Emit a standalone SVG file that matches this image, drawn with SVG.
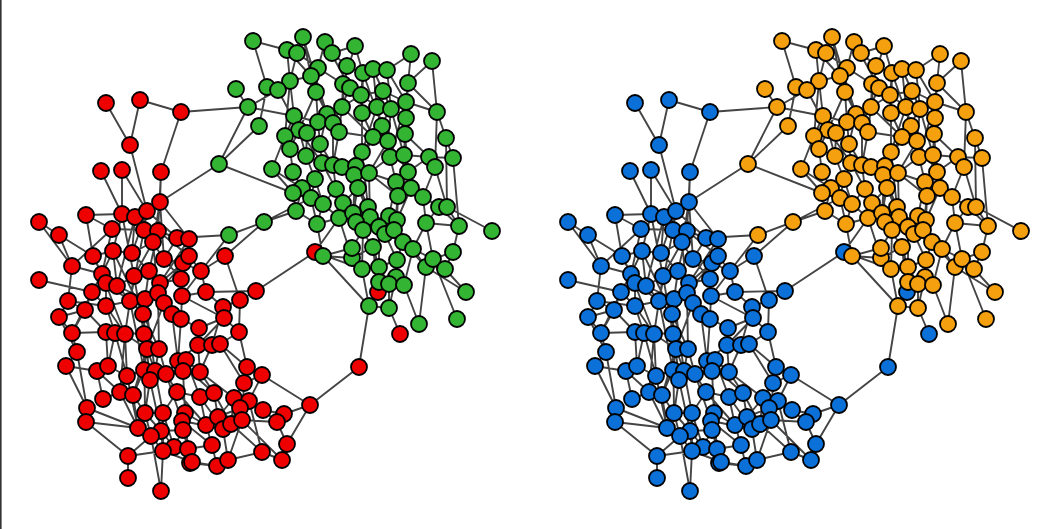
<svg xmlns="http://www.w3.org/2000/svg" xmlns:xlink="http://www.w3.org/1999/xlink" width="1058" height="529" viewBox="0 0 1058 529">
<style>
.e{fill:none;stroke:#444;stroke-width:1.9;stroke-linecap:round}
.n circle{r:8px;stroke:#000;stroke-width:1.8}
</style>
<rect width="1058" height="529" fill="#fff"/>
<rect x="0" y="0" width="1.6" height="529" fill="#333"/>
<g id="connectors">
<path id="E" class="e" d="M106 103L130 145M140 100L130 145M140 100L181 112M181 112L161 172M181 112L248 107M130 145L147 211M101 171L122 214M122 170L122 214M122 170L147 211M161 172L160 202M161 172L158 231M219 164L160 202M39 222L72 266M86 215L122 214M86 215L93 256M59 235L93 256M59 235L72 266M72 266L68 301M72 266L112 229M39 280L92 292M68 301L59 317M68 301L106 306M59 317L77 352M72 333L106 332M72 333L92 292M77 352L87 408M66 366L97 371M66 366L77 352M87 408L138 428M86 422L128 456M128 456L128 478M128 456L163 451M128 456L151 436M161 491L151 436M103 399L120 392M103 399L97 371M97 371L108 366M108 366L115 333M127 376L125 334M127 376L120 392M133 395L145 413M120 392L138 428M145 413L161 431M163 413L174 447M138 428L151 436M161 431L163 451M174 447L188 449M163 451L192 462M190 463L217 466M188 449L212 445M185 413L206 425M182 421L223 429M183 430L161 431M177 392L200 397M177 392L163 413M178 361L166 374M186 360L200 372M183 371L150 380M144 370L147 349M155 371L159 349M166 374L177 392M150 380L145 413M144 370L133 395M200 372L214 393M200 372L198 345M247 367L244 383M247 367L220 344M262 375L310 405M262 375L249 401M244 383L234 398M310 405L284 414M310 405L287 444M310 405L359 367M359 367L369 306M249 401L263 410M249 401L262 452M240 408L242 420M263 410L284 414M284 414L277 422M277 422L287 444M242 420L282 460M231 424L262 452M223 429L228 460M218 417L234 398M206 425L212 445M212 445L217 466M192 462L217 466M214 393L218 417M200 397L206 425M234 398L240 408M242 420L277 422M262 452L228 460M282 460L287 444M199 328L198 345M224 318L239 332M223 307L240 300M256 291L240 300M256 291L315 252M206 292L256 291M225 256L240 300M225 256L201 271M225 256L264 222M229 235L177 238M229 235L201 271M229 235L264 222M264 222L296 211M264 222L311 198M239 332L247 367M239 332L220 344M212 345L200 372M199 328L181 319M201 271L183 263M206 292L182 296M189 239L189 256M177 238L158 231M160 202L153 242M147 211L144 230M135 217L132 253M122 214L113 251M112 229L102 274M144 230L164 259M158 231L149 271M153 242L134 276M93 256L106 283M113 251L117 286M132 253L149 271M164 259L181 279M183 263L160 283M189 256L158 293M102 274L92 292M134 276L130 301M149 271L145 299M106 283L106 306M117 286L143 314M160 283L164 303M181 279L182 296M130 301L125 334M145 299L144 334M158 293L172 314M164 303L147 349M85 310L106 332M106 306L115 333M143 314L159 349M172 314L178 361M181 319L182 296M144 334L144 370M106 332L108 366M115 333L127 376M147 349L155 371M159 349L166 374M92 292L85 310M85 310L59 317M122 214L134 276M147 211L132 253M160 202L164 259M135 217L117 286M144 230L130 301M153 242L158 293M189 239L160 283M113 251L143 314M102 274L125 334M134 276L144 334M149 271L172 314M106 283L130 301M117 286L145 299M130 301L144 370M145 299L155 371M158 293L159 349M143 314L150 380M182 296L224 318M181 319L178 361M172 314L199 328M125 334L120 392M144 334L145 413M147 349L133 395M127 376L138 428M155 371L163 413M166 374L182 421M150 380L161 431M183 371L185 413M178 361L214 393M186 360L200 397M200 372L234 398M200 397L223 429M214 393L231 424M177 392L206 425M163 413L163 451M145 413L151 436M185 413L188 449M183 430L174 447M182 421L212 445M240 408L223 429M244 383L242 420M198 345L178 361M220 344L244 383M223 307L212 345M224 318L198 345M201 271L206 292M206 292L223 307M240 300L239 332M189 256L201 271M183 263L181 279M177 238L164 259M158 231L189 256M147 211L177 238M112 229L144 230M86 215L112 229M72 266L102 274M93 256L102 274M68 301L85 310M72 333L77 352M66 366L87 408M97 371L120 392M86 422L138 428M163 451L161 491M106 306L125 334M106 332L144 334M160 202L189 239M39 222L59 235M93 256L113 251M113 251L132 253M132 253L153 242M117 286L134 276M130 301L145 299M106 306L130 301M92 292L106 306M59 317L72 333M85 310L72 333M144 334L159 349M125 334L147 349M108 366L127 376M127 376L144 370M166 374L183 371M133 395L138 428M145 413L163 413M161 431L174 447M151 436L163 451M183 430L188 449M206 425L223 429M218 417L240 408M234 398L231 424M249 401L242 420M228 460L242 420M262 452L282 460M263 410L277 422M244 383L262 375M198 345L212 345M199 328L224 318M164 303L181 319M160 283L181 279M182 296L201 271M164 259L183 263M135 217L144 230M122 214L135 217M147 211L160 202M113 251L102 274M253 41L287 50M253 41L267 87M303 37L297 53M303 37L311 76M287 50L290 81M297 53L318 68M325 42L332 53M325 42L318 68M332 53L355 46M332 53L347 66M355 46L363 73M355 46L343 84M318 68L316 92M311 76L290 81M311 76L327 114M347 66L342 107M290 81L294 116M267 87L259 126M278 90L299 130M248 107L278 90M248 107L294 116M248 107L219 164M259 126L219 164M219 164L293 193M236 89L248 107M343 84L361 95M350 88L333 123M316 92L318 122M342 107L339 132M294 116L285 136M327 114L320 144M318 122L307 133M333 123L333 165M299 130L290 149M307 133L306 156M285 136L272 169M320 144L322 163M290 149L293 172M306 156L315 179M322 163L336 189M342 167L356 166M293 172L302 188M315 179L311 198M302 188L296 211M336 189L343 203M272 169L293 193M411 54L408 83M411 54L387 70M432 61L408 83M363 73L361 95M373 69L383 91M387 70L406 102M408 83L406 118M361 95L362 113M383 91L377 107M406 102L437 112M406 102L405 134M362 113L373 137M377 107L382 126M391 109L388 141M437 112L435 167M437 112L446 138M406 118L404 155M382 126L390 157M373 137L362 152M388 141L369 173M405 134L429 157M446 138L453 158M453 158L459 226M435 167L423 197M356 166L358 188M354 175L368 207M369 173L396 182M408 172L411 188M396 182L398 196M411 188L439 207M358 188L353 213M293 193L296 211M311 198L317 224M323 204L339 218M343 203L356 222M296 211L317 224M317 224L323 256M339 218L352 258M315 252L339 218M323 256L352 248M423 197L426 223M398 196L397 220M368 207L379 227M353 213L363 230M370 217L385 234M356 222L373 247M389 216L394 230M397 220L403 242M439 207L426 223M447 207L459 226M447 207L492 231M426 223L433 259M459 226L453 252M379 227L379 267M385 234L397 260M394 230L413 249M363 230L362 269M403 242L426 267M413 249L404 285M373 247L379 282M352 248L362 269M362 269L369 306M379 267L389 284M397 260L396 277M426 267L419 324M433 259L457 319M453 252L445 269M445 269L466 292M396 277L389 308M379 282L369 306M389 284L389 308M404 285L419 324M389 308L400 334M378 292L379 267M378 292L373 247M426 267L466 292M290 81L285 136M316 92L299 130M327 114L339 132M342 107L361 95M339 132L373 137M342 167L362 152M333 165L336 189M363 73L362 113M387 70L391 109M373 69L377 107M383 91L391 109M362 113L362 152M382 126L388 141M373 137L354 175M405 134L404 155M390 157L369 173M404 155L411 188M429 157L408 172M356 166L353 213M369 173L370 217M396 182L389 216M408 172L423 197M358 188L343 203M323 204L336 189M315 179L323 204M398 196L394 230M368 207L356 222M397 220L385 234M379 227L363 230M403 242L397 260M413 249L433 259M373 247L379 267M396 277L404 285M423 197L439 207M446 138L447 207M435 167L447 207M453 158L429 157M432 61L437 112M408 83L406 102M311 76L316 92M318 68L343 84M294 116L318 122M285 136L290 149M318 122L320 144M306 156L322 163M320 144L333 165M361 95L383 91M406 118L405 134M388 141L390 157M339 218L353 213M352 258L373 247M323 256L352 258M453 252L433 259M303 37L327 114M325 42L350 88M363 73L382 126M406 102L390 157M391 109L404 155M362 152L368 207M354 175L356 222M369 173L398 196M426 223L413 249M439 207L459 226M363 230L352 248M370 217L397 220M323 256L369 306M315 252L362 269M287 50L311 76M297 53L290 81M347 66L363 73M343 84L342 107M316 92L327 114M299 130L306 156M290 149L306 156M322 163L315 179M339 132L333 165M362 152L356 166M361 95L377 107M383 91L406 102M408 83L437 112M404 155L429 157M390 157L396 182M343 203L353 213M317 224L339 218M302 188L315 179M356 222L363 230M373 247L385 234M379 267L397 260M389 284L404 285M413 249L426 267M426 223L459 226M385 234L403 242M272 169L302 188M299 130L322 163M307 133L333 123M285 136L307 133M342 107L373 137M377 107L362 152M391 109L373 137M388 141L408 172M405 134L408 172M411 188L397 220M358 188L370 217M336 189L353 213M323 204L317 224M343 203L339 218M362 269L379 267M379 282L396 277M369 306L389 308"/>
<use xlink:href="#E" href="#E" x="529" y="0"/>
</g>
<g class="n" fill="#ee0000">
<g id="redCluster">
<circle id="a1" cx="106" cy="103"/><circle id="a2" cx="140" cy="100"/><circle id="a3" cx="181" cy="112"/><circle id="a4" cx="130" cy="145"/><circle id="a5" cx="101" cy="171"/><circle id="a6" cx="122" cy="170"/><circle id="a7" cx="161" cy="172"/><circle id="a8" cx="39" cy="222"/><circle id="a9" cx="86" cy="215"/><circle id="a10" cx="122" cy="214"/><circle id="a11" cx="135" cy="217"/><circle id="a12" cx="147" cy="211"/><circle id="a13" cx="160" cy="202"/><circle id="a14" cx="59" cy="235"/><circle id="a15" cx="112" cy="229"/><circle id="a16" cx="144" cy="230"/><circle id="a17" cx="158" cy="231"/><circle id="a18" cx="153" cy="242"/><circle id="a19" cx="177" cy="238"/><circle id="a20" cx="189" cy="239"/><circle id="a21" cx="93" cy="256"/><circle id="a22" cx="113" cy="251"/><circle id="a23" cx="132" cy="253"/><circle id="a24" cx="164" cy="259"/><circle id="a25" cx="183" cy="263"/><circle id="a26" cx="189" cy="256"/><circle id="a27" cx="72" cy="266"/><circle id="a28" cx="102" cy="274"/><circle id="a29" cx="134" cy="276"/><circle id="a30" cx="149" cy="271"/><circle id="a31" cx="39" cy="280"/><circle id="a32" cx="106" cy="283"/><circle id="a33" cx="117" cy="286"/><circle id="a34" cx="160" cy="283"/><circle id="a35" cx="181" cy="279"/><circle id="a36" cx="92" cy="292"/><circle id="a37" cx="68" cy="301"/><circle id="a38" cx="130" cy="301"/><circle id="a39" cx="145" cy="299"/><circle id="a40" cx="158" cy="293"/><circle id="a41" cx="182" cy="296"/><circle id="a42" cx="164" cy="303"/><circle id="a43" cx="85" cy="310"/><circle id="a44" cx="106" cy="306"/><circle id="a45" cx="143" cy="314"/><circle id="a46" cx="172" cy="314"/><circle id="a47" cx="181" cy="319"/><circle id="a48" cx="59" cy="317"/><circle id="a49" cx="72" cy="333"/><circle id="a50" cx="106" cy="332"/><circle id="a51" cx="115" cy="333"/><circle id="a52" cx="125" cy="334"/><circle id="a53" cx="144" cy="334"/><circle id="a54" cx="147" cy="349"/><circle id="a55" cx="159" cy="349"/><circle id="a56" cx="77" cy="352"/><circle id="a57" cx="201" cy="271"/><circle id="a58" cx="225" cy="256"/><circle id="a59" cx="206" cy="292"/><circle id="a60" cx="256" cy="291"/><circle id="a61" cx="240" cy="300"/><circle id="a62" cx="223" cy="307"/><circle id="a63" cx="224" cy="318"/><circle id="a64" cx="199" cy="328"/><circle id="a65" cx="239" cy="332"/><circle id="a66" cx="198" cy="345"/><circle id="a67" cx="212" cy="345"/><circle id="a68" cx="220" cy="344"/><circle id="a69" cx="315" cy="252"/><circle id="a70" cx="66" cy="366"/><circle id="a71" cx="97" cy="371"/><circle id="a72" cx="108" cy="366"/><circle id="a73" cx="127" cy="376"/><circle id="a74" cx="178" cy="361"/><circle id="a75" cx="186" cy="360"/><circle id="a76" cx="183" cy="371"/><circle id="a77" cx="144" cy="370"/><circle id="a78" cx="155" cy="371"/><circle id="a79" cx="166" cy="374"/><circle id="a80" cx="150" cy="380"/><circle id="a81" cx="120" cy="392"/><circle id="a82" cx="133" cy="395"/><circle id="a83" cx="103" cy="399"/><circle id="a84" cx="177" cy="392"/><circle id="a85" cx="87" cy="408"/><circle id="a86" cx="86" cy="422"/><circle id="a87" cx="145" cy="413"/><circle id="a88" cx="163" cy="413"/><circle id="a89" cx="185" cy="413"/><circle id="a90" cx="182" cy="421"/><circle id="a91" cx="138" cy="428"/><circle id="a92" cx="183" cy="430"/><circle id="a93" cx="161" cy="431"/><circle id="a94" cx="151" cy="436"/><circle id="a95" cx="174" cy="447"/><circle id="a96" cx="163" cy="451"/><circle id="a97" cx="188" cy="449"/><circle id="a98" cx="190" cy="463"/><circle id="a99" cx="128" cy="456"/><circle id="a100" cx="128" cy="478"/><circle id="a101" cx="161" cy="491"/><circle id="a102" cx="200" cy="372"/><circle id="a103" cx="247" cy="367"/><circle id="a104" cx="262" cy="375"/><circle id="a105" cx="244" cy="383"/><circle id="a106" cx="310" cy="405"/><circle id="a107" cx="200" cy="397"/><circle id="a108" cx="214" cy="393"/><circle id="a109" cx="234" cy="398"/><circle id="a110" cx="249" cy="401"/><circle id="a111" cx="240" cy="408"/><circle id="a112" cx="263" cy="410"/><circle id="a113" cx="284" cy="414"/><circle id="a114" cx="277" cy="422"/><circle id="a115" cx="206" cy="425"/><circle id="a116" cx="218" cy="417"/><circle id="a117" cx="223" cy="429"/><circle id="a118" cx="231" cy="424"/><circle id="a119" cx="242" cy="420"/><circle id="a120" cx="287" cy="444"/><circle id="a121" cx="262" cy="452"/><circle id="a122" cx="282" cy="460"/><circle id="a123" cx="212" cy="445"/><circle id="a124" cx="192" cy="462"/><circle id="a125" cx="217" cy="466"/><circle id="a126" cx="228" cy="460"/><circle id="a127" cx="359" cy="367"/><circle id="a128" cx="378" cy="292"/><circle id="a129" cx="400" cy="334"/>
</g>
</g>
<g class="n" fill="#0b70d8">
<use id="blueCluster" xlink:href="#redCluster" href="#redCluster" x="529" y="0"/>
</g>
<g class="n" fill="#33b533">
<g id="greenCluster">
<circle id="b1" cx="253" cy="41"/><circle id="b2" cx="303" cy="37"/><circle id="b3" cx="287" cy="50"/><circle id="b4" cx="297" cy="53"/><circle id="b5" cx="325" cy="42"/><circle id="b6" cx="332" cy="53"/><circle id="b8" cx="355" cy="46"/><circle id="b9" cx="318" cy="68"/><circle id="b10" cx="311" cy="76"/><circle id="b11" cx="347" cy="66"/><circle id="b12" cx="290" cy="81"/><circle id="b13" cx="267" cy="87"/><circle id="b14" cx="278" cy="90"/><circle id="b15" cx="236" cy="89"/><circle id="b16" cx="248" cy="107"/><circle id="b17" cx="343" cy="84"/><circle id="b18" cx="350" cy="88"/><circle id="b19" cx="316" cy="92"/><circle id="b20" cx="342" cy="107"/><circle id="b21" cx="294" cy="116"/><circle id="b22" cx="327" cy="114"/><circle id="b23" cx="259" cy="126"/><circle id="b24" cx="318" cy="122"/><circle id="b25" cx="333" cy="123"/><circle id="b26" cx="339" cy="132"/><circle id="b27" cx="299" cy="130"/><circle id="b28" cx="307" cy="133"/><circle id="b29" cx="285" cy="136"/><circle id="b30" cx="320" cy="144"/><circle id="b31" cx="290" cy="149"/><circle id="b32" cx="306" cy="156"/><circle id="b33" cx="322" cy="163"/><circle id="b34" cx="333" cy="165"/><circle id="b35" cx="342" cy="167"/><circle id="b36" cx="219" cy="164"/><circle id="b37" cx="272" cy="169"/><circle id="b38" cx="293" cy="172"/><circle id="b39" cx="315" cy="179"/><circle id="b40" cx="302" cy="188"/><circle id="b41" cx="336" cy="189"/><circle id="b42" cx="411" cy="54"/><circle id="b43" cx="432" cy="61"/><circle id="b44" cx="363" cy="73"/><circle id="b45" cx="373" cy="69"/><circle id="b46" cx="387" cy="70"/><circle id="b47" cx="408" cy="83"/><circle id="b48" cx="361" cy="95"/><circle id="b49" cx="383" cy="91"/><circle id="b50" cx="406" cy="102"/><circle id="b51" cx="362" cy="113"/><circle id="b52" cx="377" cy="107"/><circle id="b53" cx="391" cy="109"/><circle id="b54" cx="437" cy="112"/><circle id="b55" cx="406" cy="118"/><circle id="b56" cx="382" cy="126"/><circle id="b57" cx="373" cy="137"/><circle id="b58" cx="388" cy="141"/><circle id="b59" cx="405" cy="134"/><circle id="b60" cx="446" cy="138"/><circle id="b61" cx="362" cy="152"/><circle id="b62" cx="390" cy="157"/><circle id="b63" cx="404" cy="155"/><circle id="b64" cx="429" cy="157"/><circle id="b65" cx="453" cy="158"/><circle id="b66" cx="435" cy="167"/><circle id="b67" cx="356" cy="166"/><circle id="b68" cx="354" cy="175"/><circle id="b69" cx="369" cy="173"/><circle id="b70" cx="408" cy="172"/><circle id="b71" cx="396" cy="182"/><circle id="b72" cx="411" cy="188"/><circle id="b73" cx="358" cy="188"/><circle id="b74" cx="293" cy="193"/><circle id="b75" cx="311" cy="198"/><circle id="b76" cx="323" cy="204"/><circle id="b77" cx="343" cy="203"/><circle id="b78" cx="296" cy="211"/><circle id="b79" cx="317" cy="224"/><circle id="b80" cx="339" cy="218"/><circle id="b81" cx="264" cy="222"/><circle id="b82" cx="229" cy="235"/><circle id="b83" cx="323" cy="256"/><circle id="b84" cx="352" cy="258"/><circle id="b85" cx="423" cy="197"/><circle id="b86" cx="398" cy="196"/><circle id="b87" cx="368" cy="207"/><circle id="b88" cx="353" cy="213"/><circle id="b89" cx="370" cy="217"/><circle id="b90" cx="356" cy="222"/><circle id="b91" cx="389" cy="216"/><circle id="b92" cx="397" cy="220"/><circle id="b93" cx="439" cy="207"/><circle id="b94" cx="447" cy="207"/><circle id="b95" cx="426" cy="223"/><circle id="b96" cx="459" cy="226"/><circle id="b97" cx="492" cy="231"/><circle id="b98" cx="379" cy="227"/><circle id="b99" cx="385" cy="234"/><circle id="b100" cx="394" cy="230"/><circle id="b101" cx="363" cy="230"/><circle id="b102" cx="403" cy="242"/><circle id="b103" cx="413" cy="249"/><circle id="b104" cx="373" cy="247"/><circle id="b105" cx="352" cy="248"/><circle id="b106" cx="362" cy="269"/><circle id="b107" cx="379" cy="267"/><circle id="b108" cx="397" cy="260"/><circle id="b109" cx="426" cy="267"/><circle id="b110" cx="433" cy="259"/><circle id="b111" cx="453" cy="252"/><circle id="b112" cx="445" cy="269"/><circle id="b113" cx="396" cy="277"/><circle id="b114" cx="379" cy="282"/><circle id="b115" cx="389" cy="284"/><circle id="b116" cx="404" cy="285"/><circle id="b117" cx="466" cy="292"/><circle id="b118" cx="369" cy="306"/><circle id="b119" cx="389" cy="308"/><circle id="b120" cx="419" cy="324"/><circle id="b121" cx="457" cy="319"/>
</g>
</g>
<g class="n" fill="#f5a00f">
<use id="orangeCluster" xlink:href="#greenCluster" href="#greenCluster" x="529" y="0"/>
</g>
</svg>
